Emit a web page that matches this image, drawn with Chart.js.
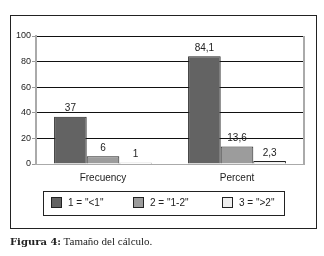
<!DOCTYPE html>
<html>
<head>
<meta charset="utf-8">
<script src="https://cdn.jsdelivr.net/npm/chart.js@4.4.0/dist/chart.umd.min.js"></script>
<style>
  body { margin: 0; background: #fff; width: 324px; height: 256px; overflow: hidden; position: relative; }
  #frame { position: absolute; left: 10px; top: 15px; width: 305px; height: 212px; border: 1px solid #222; }
  #wrap { position: absolute; left: 0; top: 0; width: 324px; height: 256px; }
  #legend { position: absolute; left: 43px; top: 191px; width: 240px; height: 23px; border: 1px solid #222;
            font: 10px "Liberation Sans", Arial, sans-serif; color: #222; }
  .item { position: absolute; top: 5px; height: 12px; line-height: 12px; }
  .box { display: inline-block; width: 9px; height: 9px; border: 1px solid #222; vertical-align: -2px; margin-right: 6px; }
  #caption { position: absolute; left: 10px; top: 235px; font: 11px "Liberation Serif", "DejaVu Serif", serif; color: #222; }
  #caption b { font-family: "DejaVu Serif", serif; font-size: 10px; }
</style>
</head>
<body>
<div id="frame"></div>
<div id="wrap"><canvas id="myChart" width="324" height="256"></canvas></div>
<div id="legend"></div>
<div id="caption"><b>Figura 4:</b> Tamaño del cálculo.</div>
<script>
const categories = ['Frecuency', 'Percent'];
const seriesNames = ['1 = "<1"', '2 = "1-2"', '3 = ">2"'];
const lessThanOne = [37, 84.1];
const oneToTwo = [6, 13.6];
const moreThanTwo = [1, 2.3];
const yTicks = [0, 20, 40, 60, 80, 100];

const colors = ['#636363', '#9c9c9c', '#efefef'];
const legendX = [7, 89, 178];

const data = {
    labels: categories,
    datasets: [lessThanOne, oneToTwo, moreThanTwo].map(function (values, i) {
        return {
            label: seriesNames[i],
            data: values,
            backgroundColor: colors[i],
            borderColor: '#222',
            borderWidth: 1,
            categoryPercentage: 0.73,
            barPercentage: 1
        };
    })
};

// value labels above bars, with comma decimals
const valueLabels = {
    id: 'valueLabels',
    afterDatasetsDraw(chart) {
        const ctx = chart.ctx;
        ctx.save();
        ctx.font = '10px "Liberation Sans", Arial, sans-serif';
        ctx.fillStyle = '#222';
        ctx.textAlign = 'center';
        ctx.textBaseline = 'bottom';
        chart.data.datasets.forEach(function (ds, i) {
            chart.getDatasetMeta(i).data.forEach(function (bar, j) {
                ctx.fillText(String(ds.data[j]).replace('.', ','), bar.x, bar.y - 3);
            });
        });
        ctx.restore();
    }
};

// gray right edge of the plot area
const plotEdge = {
    id: 'plotEdge',
    afterDraw(chart) {
        const a = chart.chartArea;
        const ctx = chart.ctx;
        ctx.save();
        ctx.strokeStyle = '#aaa';
        ctx.lineWidth = 2;
        ctx.beginPath();
        ctx.moveTo(a.right, a.top);
        ctx.lineTo(a.right, a.bottom);
        ctx.stroke();
        ctx.restore();
    }
};

const ctx = document.getElementById('myChart').getContext('2d');
const myChart = new Chart(ctx, {
    type: 'bar',
    data: data,
    plugins: [valueLabels, plotEdge],
    options: {
        responsive: false,
        animation: false,
        layout: { padding: { left: 10, right: 20, top: 36, bottom: 68 } },
        plugins: { legend: { display: false }, tooltip: { enabled: false } },
        scales: {
            x: {
                grid: { display: false },
                border: { color: '#aaa', width: 1 },
                ticks: { color: '#222', font: { size: 10, family: '"Liberation Sans", Arial, sans-serif' }, padding: 0 },
                afterFit: function (s) { s.height = 24; }
            },
            y: {
                min: 0,
                max: 100,
                afterBuildTicks: function (s) { s.ticks = yTicks.map(function (v) { return { value: v }; }); },
                grid: {
                    color: function (c) { return c.tick && c.tick.value === 0 ? '#aaa' : '#111'; },
                    tickColor: '#999',
                    tickLength: 4
                },
                border: { color: '#aaa', width: 2 },
                ticks: { color: '#222', font: { size: 9, family: '"Liberation Sans", Arial, sans-serif' }, padding: 1 },
                afterFit: function (s) { s.width = 26; }
            }
        }
    }
});

// legend
const legend = document.getElementById('legend');
seriesNames.forEach(function (name, i) {
    const item = document.createElement('div');
    item.className = 'item';
    item.style.left = legendX[i] + 'px';
    const box = document.createElement('span');
    box.className = 'box';
    box.style.background = colors[i];
    item.appendChild(box);
    item.appendChild(document.createTextNode(name));
    legend.appendChild(item);
});
</script>
</body>
</html>
